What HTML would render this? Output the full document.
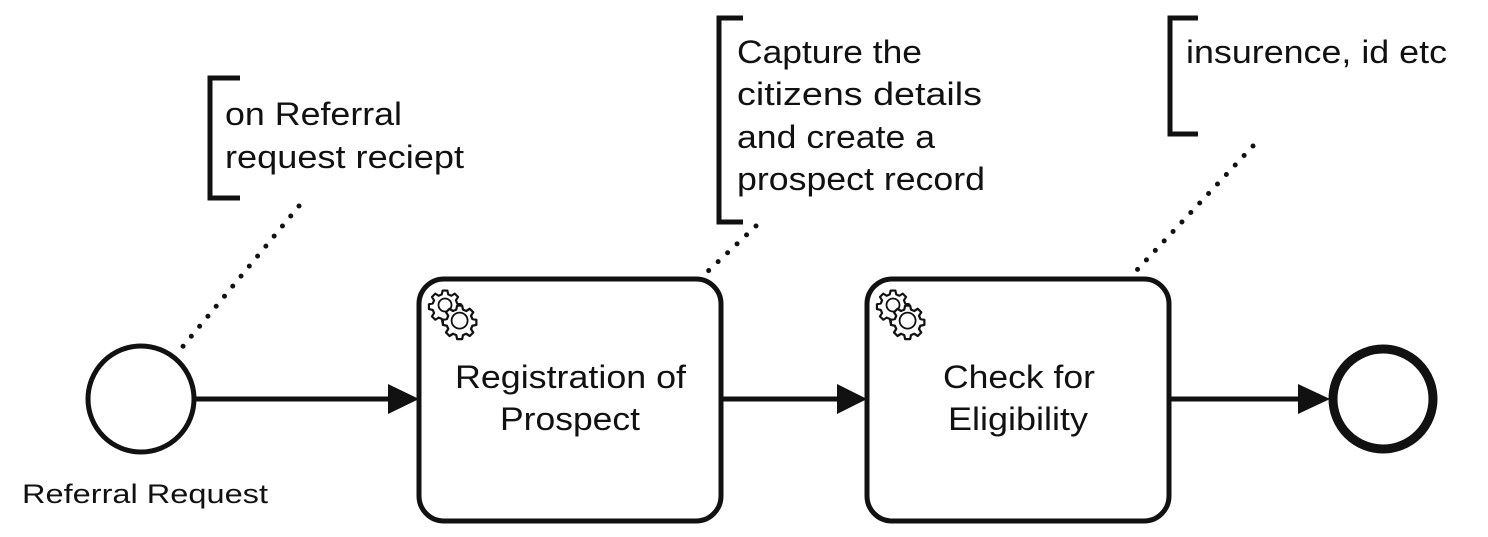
<!DOCTYPE html>
<html><head><meta charset="utf-8"><style>
html,body{margin:0;padding:0;background:#fff;width:1488px;height:537px;overflow:hidden}
svg text{font-family:"Liberation Sans",Arial,Helvetica,sans-serif;fill:#111}
</style></head><body>
<svg width="1488" height="537" viewBox="0 0 1488 537" xmlns="http://www.w3.org/2000/svg" font-family="Liberation Sans, Arial, sans-serif">
<defs>
<g id="gear">
<path d="M10.5,0.5 h4 l0.7,3.2 l2.6,1.1 l2.8,-1.8 l2.8,2.8 l-1.8,2.8 l1.1,2.6 l3.2,0.7 v4 l-3.2,0.7 l-1.1,2.6 l1.8,2.8 l-2.8,2.8 l-2.8,-1.8 l-2.6,1.1 l-0.7,3.2 h-4 l-0.7,-3.2 l-2.6,-1.1 l-2.8,1.8 l-2.8,-2.8 l1.8,-2.8 l-1.1,-2.6 l-3.2,-0.7 v-4 l3.2,-0.7 l1.1,-2.6 l-1.8,-2.8 l2.8,-2.8 l2.8,1.8 l2.6,-1.1 z" fill="#fff" stroke="#111" stroke-width="1.8" stroke-linejoin="round"/>
</g>
<g id="gears">
<use href="#gear" transform="translate(0,0) scale(1.2)"/>
<circle cx="15" cy="15" r="6.5" fill="none" stroke="#111" stroke-width="1.8"/>
<use href="#gear" transform="translate(14,15) scale(1.25)"/>
<circle cx="29.6" cy="30.6" r="8" fill="#fff" stroke="#111" stroke-width="1.8"/>
</g>
</defs>

<path d="M240,78 H210 V198 H240" fill="none" stroke="#111" stroke-width="5"/>
<text x="225" y="125" font-size="32" textLength="177" lengthAdjust="spacingAndGlyphs">on Referral</text>
<text x="225" y="168" font-size="32" textLength="239" lengthAdjust="spacingAndGlyphs">request reciept</text>
<line x1="299" y1="206" x2="180" y2="350" stroke="#111" stroke-width="5" stroke-linecap="round" stroke-dasharray="0 13"/>

<path d="M743,18 H719 V222 H743" fill="none" stroke="#111" stroke-width="5"/>
<text x="737" y="63" font-size="32" textLength="185" lengthAdjust="spacingAndGlyphs">Capture the</text>
<text x="737" y="105" font-size="32" textLength="245" lengthAdjust="spacingAndGlyphs">citizens details</text>
<text x="737" y="148" font-size="32" textLength="198" lengthAdjust="spacingAndGlyphs">and create a</text>
<text x="737" y="190" font-size="32" textLength="248" lengthAdjust="spacingAndGlyphs">prospect record</text>
<line x1="756" y1="226" x2="705" y2="274" stroke="#111" stroke-width="5" stroke-linecap="round" stroke-dasharray="0 13"/>

<path d="M1198,18 H1170 V134 H1198" fill="none" stroke="#111" stroke-width="5"/>
<text x="1186" y="63" font-size="32" textLength="261" lengthAdjust="spacingAndGlyphs">insurence, id etc</text>
<line x1="1253" y1="146" x2="1137" y2="270" stroke="#111" stroke-width="5" stroke-linecap="round" stroke-dasharray="0 13"/>

<circle cx="141" cy="399" r="53" fill="#fff" stroke="#111" stroke-width="5"/>
<text x="22" y="503" font-size="27" textLength="246" lengthAdjust="spacingAndGlyphs">Referral Request</text>

<line x1="196" y1="399" x2="392" y2="399" stroke="#111" stroke-width="5"/>
<polygon points="388,384 419,399 388,414" fill="#111"/>
<line x1="722" y1="399" x2="840" y2="399" stroke="#111" stroke-width="5"/>
<polygon points="837,384 867,399 837,414" fill="#111"/>
<line x1="1170" y1="399" x2="1300" y2="399" stroke="#111" stroke-width="5"/>
<polygon points="1298,384 1330,399 1298,414" fill="#111"/>

<rect x="419" y="279" width="302" height="242" rx="25" fill="#fff" stroke="#111" stroke-width="5"/>
<use href="#gears" transform="translate(430,290)"/>
<text x="455" y="388" font-size="32" textLength="231" lengthAdjust="spacingAndGlyphs">Registration of</text>
<text x="500" y="430" font-size="32" textLength="140" lengthAdjust="spacingAndGlyphs">Prospect</text>

<rect x="867" y="279" width="302" height="242" rx="25" fill="#fff" stroke="#111" stroke-width="5"/>
<use href="#gears" transform="translate(878,290)"/>
<text x="943" y="388" font-size="32" textLength="152" lengthAdjust="spacingAndGlyphs">Check for</text>
<text x="948" y="430" font-size="32" textLength="140" lengthAdjust="spacingAndGlyphs">Eligibility</text>

<circle cx="1383" cy="399" r="50" fill="#fff" stroke="#111" stroke-width="9"/>
</svg>
</body></html>
